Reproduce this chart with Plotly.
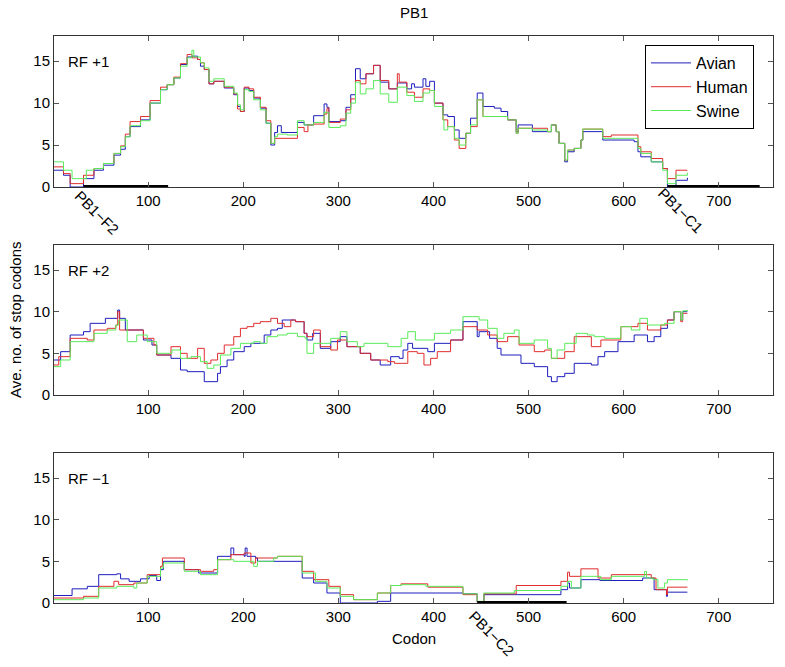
import plotly.graph_objects as go

# ---------------- data (codon breakpoints, average number of stop codons) ----------------
series_names = ["Avian", "Human", "Swine"]
panel_labels = ["RF +1", "RF +2", "RF \u22121"]
x_ticks = [100, 200, 300, 400, 500, 600, 700]
y_ticks = [0, 5, 10, 15]

# RF +1
rf1_avian_x = [1, 11, 18, 32, 43, 53, 64, 71, 76, 81, 92, 102, 113, 120, 127, 134, 141, 146, 152, 155, 159, 164, 169, 180, 190, 194, 197, 201, 206, 211, 218, 224, 229, 233, 236, 240, 257, 264, 274, 285, 288, 290, 302, 308, 313, 318, 323, 329, 337, 344, 353, 362, 372, 377, 380, 389, 392, 396, 401, 410, 415, 422, 427, 434, 439, 446, 452, 464, 471, 478, 487, 489, 504, 520, 524, 529, 532, 538, 541, 548, 555, 557, 578, 611, 615, 618, 629, 641, 646, 655, 667]
rf1_avian_y = [2.0, 1.4, 0.0, 1.0, 2.0, 2.6, 3.8, 4.5, 6.0, 7.2, 8.0, 10.0, 11.6, 12.2, 13.0, 14.6, 15.5, 15.6, 15.2, 14.4, 14.0, 12.3, 12.6, 11.8, 11.0, 9.6, 9.0, 11.8, 11.5, 10.6, 9.4, 7.6, 5.0, 6.5, 7.3, 6.5, 7.7, 7.4, 8.5, 9.9, 9.5, 7.8, 7.9, 9.5, 11.0, 14.1, 12.9, 13.5, 14.5, 12.5, 11.7, 12.4, 11.7, 12.3, 11.9, 12.9, 12.0, 12.6, 10.0, 8.6, 8.4, 6.8, 5.8, 6.4, 8.2, 11.2, 9.6, 9.4, 9.0, 8.0, 6.6, 7.4, 6.6, 6.6, 7.4, 6.6, 5.2, 3.0, 4.2, 4.6, 5.6, 6.6, 5.6, 5.4, 4.2, 3.6, 3.0, 2.2, 0.0, 0.8, 1.1]

rf1_human_x = [1, 11, 18, 32, 43, 53, 64, 71, 76, 81, 92, 102, 113, 120, 127, 134, 141, 146, 152, 155, 159, 164, 169, 180, 190, 194, 197, 201, 206, 211, 218, 224, 229, 233, 246, 257, 264, 268, 274, 285, 288, 290, 302, 308, 313, 318, 323, 329, 337, 344, 353, 362, 364, 372, 380, 389, 396, 401, 410, 415, 422, 427, 434, 439, 446, 452, 478, 487, 489, 504, 520, 524, 529, 532, 538, 541, 548, 555, 557, 578, 587, 611, 615, 618, 629, 641, 646, 655, 667]
rf1_human_y = [2.4, 1.6, 0.4, 1.4, 2.2, 2.8, 4.0, 4.9, 6.3, 7.8, 8.4, 10.3, 11.9, 12.2, 13.1, 14.7, 15.8, 15.4, 15.2, 14.8, 14.0, 12.3, 12.6, 11.9, 11.1, 9.3, 9.0, 11.9, 11.7, 10.7, 9.5, 7.9, 5.2, 5.8, 5.8, 7.1, 6.6, 7.4, 7.5, 8.7, 9.4, 7.7, 8.1, 9.2, 10.5, 12.7, 12.3, 13.5, 14.5, 12.7, 11.7, 13.5, 12.5, 11.3, 10.7, 11.7, 11.5, 10.0, 8.0, 7.2, 5.6, 4.6, 6.4, 7.2, 10.4, 8.4, 8.0, 6.4, 7.0, 7.0, 6.6, 7.4, 6.6, 5.2, 3.2, 4.4, 4.6, 5.6, 6.9, 6.0, 6.2, 6.2, 4.8, 4.2, 3.4, 2.2, 1.0, 2.0, 2.0]

rf1_swine_x = [1, 11, 20, 35, 43, 53, 64, 71, 76, 81, 92, 102, 113, 120, 127, 134, 141, 146, 148, 155, 159, 164, 169, 180, 190, 194, 197, 201, 206, 211, 218, 224, 229, 233, 236, 246, 257, 264, 274, 285, 290, 302, 308, 313, 318, 323, 329, 337, 344, 353, 362, 372, 380, 389, 396, 401, 410, 411, 415, 422, 427, 434, 439, 446, 452, 478, 487, 489, 504, 520, 524, 529, 532, 538, 541, 548, 555, 557, 578, 611, 615, 618, 629, 641, 646, 655, 667]
rf1_swine_y = [3.0, 2.0, 1.0, 2.0, 2.2, 2.8, 4.0, 4.8, 6.0, 7.3, 7.9, 10.0, 11.6, 12.2, 13.0, 14.4, 15.4, 16.3, 15.5, 14.8, 14.2, 12.6, 12.9, 12.0, 11.2, 9.8, 9.2, 11.6, 11.4, 10.4, 9.2, 7.6, 5.2, 6.0, 6.3, 6.2, 7.9, 7.4, 7.7, 8.9, 7.1, 7.3, 8.8, 10.0, 12.5, 11.1, 11.7, 12.7, 11.1, 10.1, 11.9, 10.9, 10.2, 11.2, 11.5, 9.6, 8.0, 6.8, 7.2, 5.8, 5.0, 6.4, 7.4, 10.4, 8.4, 8.0, 6.4, 7.0, 6.8, 6.6, 7.4, 6.6, 5.2, 3.2, 4.4, 4.6, 5.6, 6.9, 5.8, 5.8, 4.6, 4.0, 3.0, 2.0, 0.4, 1.4, 1.7]

# RF +2
rf2_avian_x = [1, 8, 18, 32, 39, 55, 68, 70, 76, 95, 104, 109, 124, 134, 141, 159, 173, 176, 183, 190, 201, 208, 222, 229, 236, 241, 255, 264, 267, 273, 281, 292, 302, 309, 323, 334, 344, 355, 364, 368, 373, 378, 394, 401, 418, 431, 446, 448, 459, 467, 471, 492, 506, 520, 524, 530, 538, 548, 566, 573, 580, 594, 611, 625, 632, 639, 646, 653, 660, 662, 667]
rf2_avian_y = [4.2, 5.2, 7.2, 7.6, 8.6, 9.2, 10.2, 9.2, 7.8, 6.6, 6.0, 4.8, 4.4, 3.0, 2.8, 1.6, 2.6, 3.4, 4.2, 5.2, 5.8, 6.2, 7.2, 7.8, 8.0, 9.0, 8.8, 7.4, 6.6, 7.4, 5.6, 6.4, 7.0, 5.8, 5.0, 4.2, 3.6, 4.6, 4.4, 5.4, 6.2, 5.6, 5.2, 6.2, 6.6, 8.8, 7.0, 7.6, 6.8, 5.6, 4.8, 3.8, 3.4, 2.2, 1.6, 2.2, 2.6, 3.8, 3.6, 4.6, 5.2, 6.4, 7.2, 6.4, 7.0, 8.0, 9.0, 10.0, 9.0, 10.0, 10.0]

rf2_human_x = [1, 6, 18, 36, 43, 57, 66, 68, 70, 87, 95, 106, 109, 124, 134, 141, 152, 159, 166, 173, 180, 190, 197, 204, 211, 218, 229, 236, 243, 250, 255, 264, 267, 274, 281, 292, 299, 309, 323, 334, 352, 359, 366, 373, 383, 390, 397, 404, 418, 431, 446, 457, 467, 478, 490, 506, 517, 524, 538, 548, 566, 576, 597, 615, 625, 639, 646, 653, 660, 662, 667]
rf2_human_y = [3.6, 4.6, 6.8, 6.6, 7.8, 8.0, 8.4, 10.0, 7.8, 7.8, 6.8, 6.0, 4.8, 5.8, 5.0, 4.4, 5.6, 3.8, 4.2, 5.0, 6.0, 7.0, 8.0, 8.2, 8.6, 8.8, 9.2, 8.6, 8.2, 9.0, 8.8, 7.4, 7.0, 7.8, 5.8, 5.4, 6.6, 5.8, 5.0, 4.2, 4.0, 3.8, 3.8, 5.2, 5.0, 3.6, 4.4, 5.2, 6.6, 8.2, 7.8, 7.2, 6.4, 7.0, 6.0, 5.2, 5.4, 4.4, 5.2, 7.0, 5.8, 6.6, 8.2, 8.6, 7.8, 8.4, 9.0, 10.0, 8.8, 9.8, 9.8]

rf2_swine_x = [1, 8, 18, 43, 57, 66, 69, 78, 88, 99, 109, 125, 134, 145, 155, 162, 169, 176, 187, 197, 211, 218, 225, 236, 246, 257, 265, 267, 274, 292, 302, 309, 320, 327, 352, 366, 373, 381, 401, 418, 431, 448, 457, 467, 474, 485, 490, 506, 520, 524, 530, 538, 550, 562, 569, 580, 597, 608, 617, 625, 643, 653, 660, 662, 667]
rf2_swine_y = [3.4, 4.2, 6.4, 7.4, 7.8, 8.4, 9.0, 6.4, 7.2, 6.4, 5.0, 5.4, 4.4, 4.6, 4.0, 3.2, 3.6, 4.8, 5.6, 6.2, 6.4, 6.2, 7.0, 7.2, 7.4, 7.0, 6.8, 5.0, 6.2, 6.8, 7.6, 6.4, 5.8, 6.2, 5.8, 6.8, 7.6, 6.6, 7.4, 7.8, 9.4, 9.0, 8.0, 6.8, 7.4, 7.8, 6.2, 6.6, 5.6, 4.4, 5.4, 6.2, 7.4, 7.2, 7.0, 6.8, 8.2, 7.8, 9.2, 8.4, 8.6, 10.0, 9.0, 10.1, 10.2]

# RF -1
rfm1_avian_x = [1, 20, 36, 48, 67, 71, 80, 92, 101, 109, 113, 116, 138, 153, 173, 187, 190, 201, 202, 204, 213, 215, 262, 274, 288, 302, 341, 355, 431, 446, 453, 532, 534, 541, 543, 555, 575, 620, 632, 645, 646, 667]
rfm1_avian_y = [0.9, 1.7, 2.0, 3.4, 3.5, 2.9, 2.6, 2.9, 3.3, 2.7, 4.0, 5.0, 4.0, 3.6, 5.6, 6.6, 5.8, 5.6, 6.6, 5.6, 5.4, 5.0, 3.0, 2.4, 1.2, 0.0, 0.2, 1.2, 1.1, 0.1, 1.0, 1.0, 1.6, 2.4, 1.8, 2.8, 2.7, 3.0, 1.6, 0.8, 1.3, 1.3]

rfm1_human_x = [1, 32, 48, 64, 69, 85, 99, 113, 115, 138, 155, 169, 173, 187, 201, 208, 213, 236, 259, 262, 274, 290, 302, 316, 341, 355, 366, 394, 431, 446, 453, 487, 534, 541, 543, 555, 573, 587, 629, 634, 645, 646, 667]
rfm1_human_y = [0.6, 0.8, 2.0, 2.6, 2.2, 2.4, 3.4, 4.4, 5.4, 4.0, 3.8, 4.0, 5.2, 5.8, 6.0, 4.8, 5.4, 5.6, 5.6, 3.8, 2.8, 2.0, 1.0, 0.4, 1.2, 2.1, 2.3, 1.9, 1.0, 0.1, 1.1, 2.1, 2.6, 3.7, 3.2, 4.1, 3.0, 3.4, 3.0, 1.6, 1.0, 1.9, 1.9]

rfm1_swine_x = [1, 32, 48, 67, 85, 88, 99, 113, 116, 138, 155, 173, 190, 211, 215, 232, 236, 259, 262, 276, 288, 302, 316, 341, 355, 366, 392, 431, 446, 453, 485, 534, 541, 545, 555, 576, 587, 620, 622, 624, 631, 636, 643, 646, 667]
rfm1_swine_y = [0.4, 0.6, 1.8, 2.0, 1.8, 2.4, 3.2, 4.2, 4.8, 3.8, 3.4, 5.2, 5.0, 4.4, 5.0, 5.4, 5.6, 5.6, 3.6, 2.6, 1.8, 0.8, 0.4, 1.2, 2.1, 2.2, 2.0, 1.1, 0.2, 1.2, 1.5, 2.0, 2.6, 1.8, 3.2, 2.8, 3.2, 3.2, 3.8, 3.0, 2.8, 1.8, 2.4, 2.8, 2.7]

# overlapping ORFs (start, end codon) and their labels
orf_names = ["PB1\u2212F2", "PB1\u2212C1", "PB1\u2212C2"]
orf_start = [32, 646, 446]
orf_end = [121, 743, 540]
orf_panel = [1, 1, 3]

# ---------------- figure ----------------
W, H = 785, 667
colors = {"Avian": "rgb(30,30,190)", "Human": "rgb(225,45,45)", "Swine": "rgb(90,235,90)"}
FONT = "Liberation Sans, Arial, Helvetica, sans-serif"
FS = 15

panels = [
    (rf1_avian_x, rf1_avian_y, rf1_human_x, rf1_human_y, rf1_swine_x, rf1_swine_y),
    (rf2_avian_x, rf2_avian_y, rf2_human_x, rf2_human_y, rf2_swine_x, rf2_swine_y),
    (rfm1_avian_x, rfm1_avian_y, rfm1_human_x, rfm1_human_y, rfm1_swine_x, rfm1_swine_y),
]

# pixel boxes of the three axes (top, bottom)
boxes = [(36, 187), (245, 395), (453, 603)]
x_left, x_right = 54, 773

fig = go.Figure()
for i, p in enumerate(panels):
    ax = "" if i == 0 else str(i + 1)
    for k, name in enumerate(series_names):
        fig.add_trace(go.Scatter(
            x=p[2 * k], y=p[2 * k + 1], mode="lines", name=name,
            line=dict(color=colors[name], width=1, shape="hv"),
            showlegend=(i == 0), xaxis="x" + ax, yaxis="y" + ax,
            hoverinfo="skip"))

for n, s, e, pn in zip(orf_names, orf_start, orf_end, orf_panel):
    ax = "" if pn == 1 else str(pn)
    fig.add_trace(go.Scatter(
        x=[s, e], y=[0, 0], mode="lines", line=dict(color="black", width=4),
        showlegend=False, xaxis="x" + ax, yaxis="y" + ax, cliponaxis=False,
        hoverinfo="skip"))

layout = dict(
    width=W, height=H, margin=dict(l=0, r=0, t=0, b=0),
    paper_bgcolor="white", plot_bgcolor="white",
    font=dict(family=FONT, size=FS, color="black"),
    showlegend=True,
    legend=dict(x=645 / W, y=1 - 45 / H, xanchor="left", yanchor="top",
                bgcolor="white", bordercolor="black", borderwidth=1,
                font=dict(size=16, family=FONT), tracegroupgap=0,
                itemwidth=40),
)

axis_common = dict(showline=True, linecolor="#333", linewidth=1, mirror="allticks",
                   ticks="inside", ticklen=5, tickcolor="#555", showgrid=False,
                   zeroline=False, automargin=False,
                   tickfont=dict(size=FS, family=FONT, color="black"))

annotations = []
for i, (top, bot) in enumerate(boxes):
    ax = "" if i == 0 else str(i + 1)
    ydom = [1 - bot / H, 1 - top / H]
    layout["xaxis" + ax] = dict(axis_common, domain=[x_left / W, x_right / W],
                                range=[1, 757], tickvals=x_ticks, anchor="y" + ax)
    layout["yaxis" + ax] = dict(axis_common, domain=ydom, range=[0, 18],
                                tickvals=y_ticks, anchor="x" + ax)
    # panel label next to the 15 tick
    annotations.append(dict(x=66 / W, y=1 - (bot - 15 * (bot - top) / 18) / H,
                            xref="paper", yref="paper", text=panel_labels[i],
                            showarrow=False, xanchor="left", yanchor="middle",
                            font=dict(size=FS, family=FONT)))

# ORF labels, rotated
orf_label_pos = [(97, 212), (681, 210), (492, 633)]
for n, (px, py) in zip(orf_names, orf_label_pos):
    annotations.append(dict(x=px / W, y=1 - py / H, xref="paper", yref="paper",
                            text=n, showarrow=False, textangle=45,
                            xanchor="center", yanchor="middle",
                            font=dict(size=FS, family=FONT)))

annotations.append(dict(x=413.5 / W, y=1 - 12 / H, xref="paper", yref="paper",
                        text="PB1", showarrow=False, xanchor="center", yanchor="middle",
                        font=dict(size=FS, family=FONT)))
annotations.append(dict(x=413.5 / W, y=1 - 638 / H, xref="paper", yref="paper",
                        text="Codon", showarrow=False, xanchor="center", yanchor="middle",
                        font=dict(size=FS, family=FONT)))
annotations.append(dict(x=15 / W, y=1 - 320 / H, xref="paper", yref="paper",
                        text="Ave. no. of stop codons", showarrow=False, textangle=-90,
                        xanchor="center", yanchor="middle",
                        font=dict(size=FS, family=FONT)))
layout["annotations"] = annotations

fig.update_layout(**layout)
fig.write_html("out.html", config={"displayModeBar": False},
               post_script="document.body.style.margin='0';document.body.style.padding='0';"
                           "document.body.style.overflow='hidden';")
